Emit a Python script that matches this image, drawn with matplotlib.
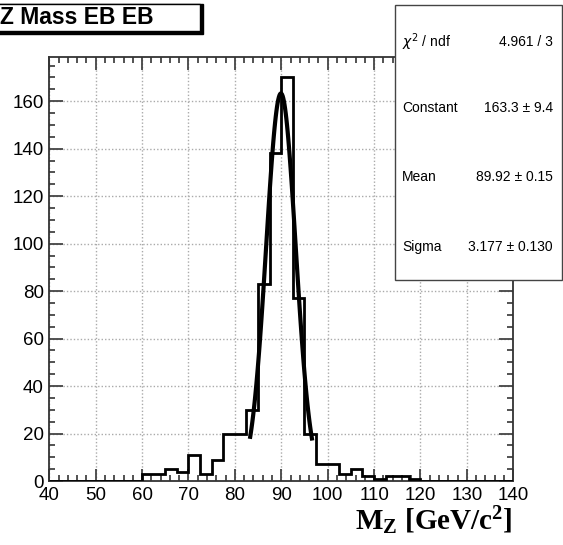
import matplotlib
matplotlib.use("Agg")
import matplotlib.pyplot as plt
from matplotlib.patches import Rectangle
import numpy as np

plt.rcParams['font.family'] = ['Liberation Sans', 'DejaVu Sans']
plt.rcParams['mathtext.fontset'] = 'custom'
plt.rcParams['mathtext.rm'] = 'Liberation Serif:bold'
plt.rcParams['mathtext.it'] = 'Liberation Serif:bold'

# histogram: 40 bins of 2.5 GeV from 40 to 140
bin_edges = np.linspace(40, 140, 41)
counts = [0, 0, 0, 0, 0, 0, 0, 0,
          3, 3, 5, 4, 11, 3, 9, 20,
          20, 30, 83, 138, 170, 77, 20, 7,
          7, 3, 5, 2, 1, 2, 2, 1,
          0, 0, 0, 0, 0, 0, 0, 0]

# gaussian fit results
fit_const = 163.3
fit_mean = 89.92
fit_sigma = 3.177
fit_range = (83.3, 96.6)

stat_names = [r'$\chi^2$ / ndf', 'Constant', 'Mean', 'Sigma']
stat_values = ['4.961 / 3', '163.3 ± 9.4', '89.92 ± 0.15', '3.177 ± 0.130']

W, H = 563, 545
fig = plt.figure(figsize=(W / 100, H / 100), dpi=100)
ax = fig.add_axes([49.3 / W, 1 - 481 / H, (513.3 - 49.3) / W, (481 - 57.3) / H])

ax.stairs(counts, bin_edges, color='black', lw=2, zorder=3)

xf = np.linspace(fit_range[0], fit_range[1], 100)
yf = fit_const * np.exp(-0.5 * ((xf - fit_mean) / fit_sigma) ** 2)
ax.plot(xf, yf, color='black', lw=3, zorder=4)

ax.set_xlim(40, 140)
ax.set_ylim(0, max(counts) * 1.05)
ax.set_xticks(np.arange(40, 141, 10))
ax.set_xticks(np.arange(40, 141, 2), minor=True)
ax.set_yticks(np.arange(0, 161, 20))
ax.set_yticks(np.arange(0, 176, 5), minor=True)
ax.grid(True, which='major', color='#aaaaaa', ls=(0, (1, 1.5)), lw=1)
ax.set_axisbelow(True)
for s in ax.spines.values():
    s.set_color('#333333')
    s.set_linewidth(1.3)
ax.tick_params(which='both', direction='in', top=True, right=True,
               color='#444444', width=1.3, labelsize=13.5)
ax.tick_params(axis='x', which='major', length=9, pad=4)
ax.tick_params(axis='x', which='minor', length=4.5)
ax.tick_params(axis='y', which='major', length=10, pad=4)
ax.tick_params(axis='y', which='minor', length=4.5)

fig.text(512 / W, 1 - 530 / H, r'M$_\mathrm{Z}$ [GeV/c$^\mathrm{2}$]',
         family='Liberation Serif', weight='bold', fontsize=21,
         ha='right', va='baseline')

# title box with shadow
fig.patches.append(Rectangle((-2 / W, 1 - 34 / H), 205 / W, 30 / H,
                             transform=fig.transFigure, facecolor='black',
                             edgecolor='black', zorder=5))
fig.patches.append(Rectangle((-5 / W, 1 - 31 / H), 205 / W, 27 / H,
                             transform=fig.transFigure, facecolor='white',
                             edgecolor='black', lw=1, zorder=6))
fig.text(0 / W, 1 - 18 / H, 'Z Mass EB EB', weight='bold', fontsize=16.5,
         ha='left', va='center', zorder=7)

# stats box
fig.patches.append(Rectangle((395 / W, 1 - 280 / H), 167 / W, 275 / H,
                             transform=fig.transFigure, facecolor='white',
                             edgecolor='#444444', lw=1, zorder=5))
for i, (name, val) in enumerate(zip(stat_names, stat_values)):
    yc = 1 - [42, 108, 177, 247][i] / H
    if i == 0:
        fig.text(402 / W, yc, name, fontsize=10, ha='left', va='center', zorder=7,
                 math_fontfamily='dejavusans')
    else:
        fig.text(402 / W, yc, name, fontsize=10, ha='left', va='center', zorder=7)
    fig.text(553 / W, yc, val, fontsize=10, ha='right', va='center', zorder=7)

fig.savefig('out.png', dpi=100)
